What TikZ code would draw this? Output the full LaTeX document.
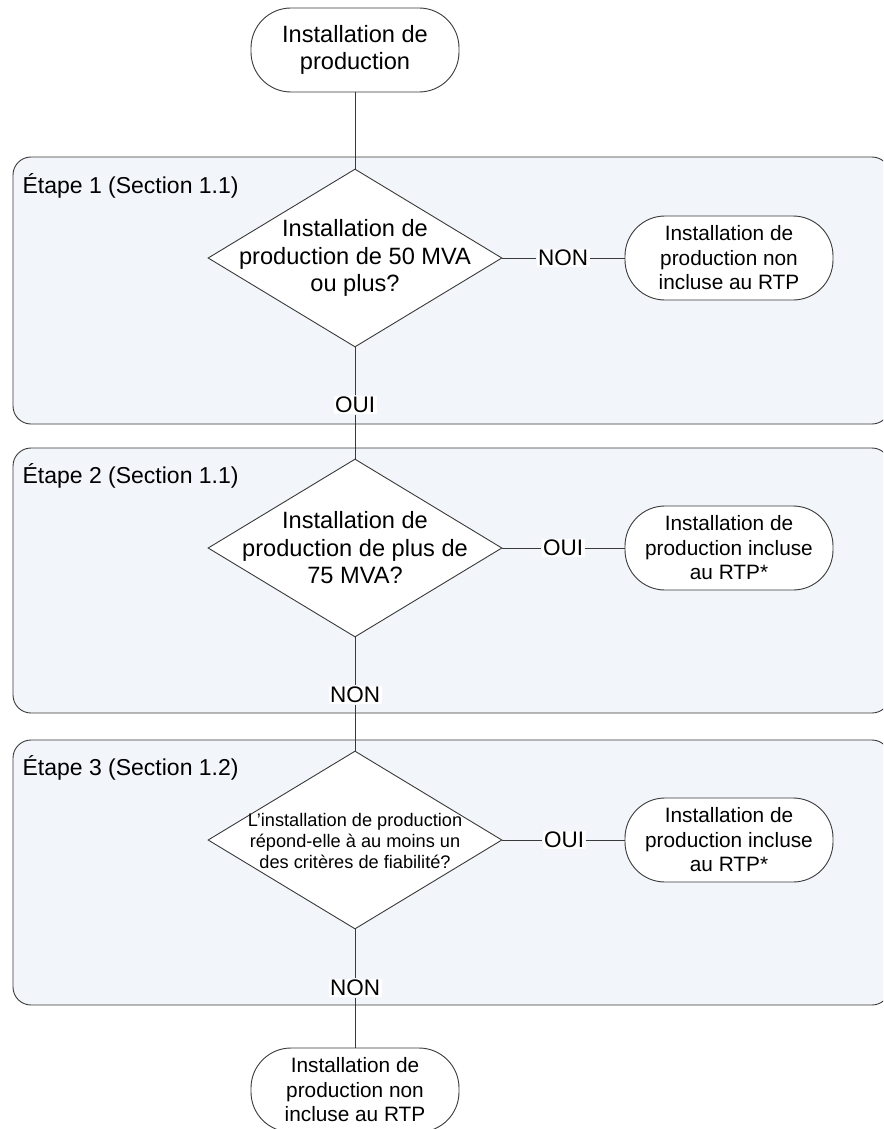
\documentclass[tikz,border=0pt]{standalone}
\usepackage{fontspec}
\setmainfont{Liberation Sans}
\usetikzlibrary{shapes.geometric}
\definecolor{panelfill}{HTML}{F2F5FA}
\definecolor{linec}{HTML}{3A3A3A}
\begin{document}
\begin{tikzpicture}[x=1pt,y=-1pt,
  panel/.style={draw=linec,line width=0.9pt,fill=panelfill,rounded corners=18pt},
  term/.style={draw=linec,line width=0.9pt,fill=white,rounded corners=40pt,minimum width=208pt,minimum height=84pt,inner sep=0pt,align=center},
  dia/.style={draw=linec,line width=0.9pt,fill=white,diamond,minimum width=294pt,minimum height=178pt,inner sep=0pt},
  big/.style={font=\fontsize{23.6}{27.5}\selectfont,align=center},
  mid/.style={font=\fontsize{20.8}{24.5}\selectfont,align=center},
  small/.style={font=\fontsize{18.2}{21}\selectfont,align=center},
  lab/.style={fill=white,inner sep=1.5pt,font=\fontsize{22.5}{26}\selectfont},
  steplab/.style={anchor=west,font=\fontsize{23}{27}\selectfont},
  conn/.style={draw=linec,line width=1pt}]
\useasboundingbox (0,0) rectangle (883,1129);
\clip (0,0) rectangle (883,1129);
% panels
\path[panel] (13,157) rectangle (890,424);
\path[panel] (13,448) rectangle (890,713);
\path[panel] (13,740) rectangle (890,1005);
\node[steplab] (s1) at (19,186) {Étape 1 (Section 1.1)};
\node[steplab] (s2) at (19,476) {Étape 2 (Section 1.1)};
\node[steplab] (s3) at (19,768) {Étape 3 (Section 1.2)};
% nodes
\node[term,big] (top) at (355,50) {Installation de\\production};
\node[dia] (d1) at (355,258) {};
\node[big] (t1) at (355,258) {Installation de\\production de 50 MVA\\ou plus?};
\node[term,mid] (r1) at (729,258) {Installation de\\production non\\incluse au RTP};
\node[dia] (d2) at (355,548) {};
\node[big] (t2) at (355,548) {Installation de\\production de plus de\\75 MVA?};
\node[term,mid] (r2) at (729,548) {Installation de\\production incluse\\au RTP*};
\node[dia] (d3) at (355,840) {};
\node[small] (t3) at (355,841) {L’installation de production\\répond-elle à au moins un\\des critères de fiabilité?};
\node[term,mid] (r3) at (729,840) {Installation de\\production incluse\\au RTP*};
\node[term,mid] (bot) at (355,1090) {Installation de\\production non\\incluse au RTP};
% labels
\node[lab] (n1) at (563,258) {NON};
\node[lab] (o1) at (355,405) {OUI};
\node[lab] (o2) at (563,548) {OUI};
\node[lab] (n2) at (355,695) {NON};
\node[lab] (o3) at (564,840) {OUI};
\node[lab] (n3) at (355,988) {NON};
% connectors
\draw[conn] (top.south) -- (d1.north);
\draw[conn] (d1.east) -- (n1.west);
\draw[conn] (n1.east) -- (r1.west);
\draw[conn] (d1.south) -- (o1.north);
\draw[conn] (o1.south) -- (d2.north);
\draw[conn] (d2.east) -- (o2.west);
\draw[conn] (o2.east) -- (r2.west);
\draw[conn] (d2.south) -- (n2.north);
\draw[conn] (n2.south) -- (d3.north);
\draw[conn] (d3.east) -- (o3.west);
\draw[conn] (o3.east) -- (r3.west);
\draw[conn] (d3.south) -- (n3.north);
\draw[conn] (n3.south) -- (bot.north);
\end{tikzpicture}
\end{document}
